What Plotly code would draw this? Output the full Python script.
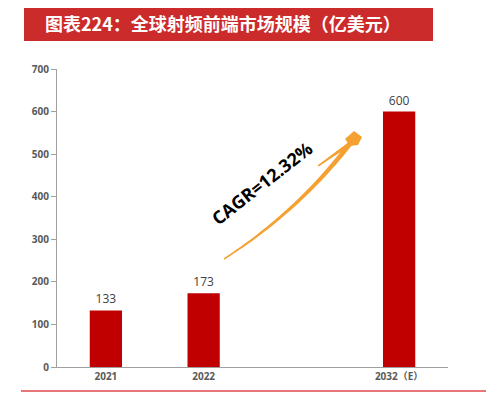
import plotly.graph_objects as go
import numpy as np

categories = ["2021", "2022", " ", "2032（E）"]
values = [133, 173, None, 600]
labels = ["133", "173", "", "600"]
title_text = "图表224：全球射频前端市场规模（亿美元）"
cagr_text = "CAGR=12.32%"

W, H = 494, 398
OFF = 8  # page body margin
L, R, T, B = 57, 448, 69, 367  # plot area in screen pixels


def px(x):
    return (x - L) / (R - L)


def py(y):
    return (B - y) / (B - T)


fig = go.Figure()
fig.add_trace(go.Bar(
    x=categories, y=values, text=labels, textposition="outside",
    marker=dict(color="#C00000", line=dict(width=0)),
    textfont=dict(family="Open Sans, Noto Sans", size=12, color="#404040"),
    cliponaxis=False, showlegend=False,
))

shapes = []
shapes.append(dict(type="rect", xref="paper", yref="paper",
                   x0=px(24), x1=px(433), y0=py(41), y1=py(6),
                   fillcolor="#CC2B2B", line=dict(width=0), layer="above"))
shapes.append(dict(type="line", xref="paper", yref="paper",
                   x0=px(21), x1=px(490), y0=py(391), y1=py(391),
                   line=dict(color="#E0474C", width=1.5)))


def tapered(p0, c, p1, w0, w1, n=40):
    t = np.linspace(0, 1, n)
    pts = np.array([(1 - t) ** 2 * p0[i] + 2 * (1 - t) * t * c[i] + t ** 2 * p1[i] for i in range(2)]).T
    d = np.gradient(pts, axis=0)
    nrm = np.stack([-d[:, 1], d[:, 0]], axis=1)
    nrm /= np.linalg.norm(nrm, axis=1, keepdims=True)
    w = (w0 + (w1 - w0) * t)[:, None] / 2
    up = pts + nrm * w
    lo = pts - nrm * w
    poly = np.vstack([up, lo[::-1]])
    return "M " + " L ".join(f"{px(x):.4f},{py(y):.4f}" for x, y in poly) + " Z"


orange = "#F5A132"
shapes.append(dict(type="path", xref="paper", yref="paper",
                   path=tapered((224, 259), (300, 210), (352, 141), 1.5, 5),
                   fillcolor=orange, line=dict(width=0)))
shapes.append(dict(type="path", xref="paper", yref="paper",
                   path=tapered((318, 166), (335, 154), (355, 140), 1.5, 4),
                   fillcolor=orange, line=dict(width=0)))
head = [(345, 139), (354, 131), (362, 137), (358, 145), (350, 146)]
shapes.append(dict(type="path", xref="paper", yref="paper",
                   path="M " + " L ".join(f"{px(x):.4f},{py(y):.4f}" for x, y in head) + " Z",
                   fillcolor=orange, line=dict(width=0)))

annotations = [
    dict(text=f"<b>{title_text}</b>", xref="paper", yref="paper",
         x=px(43), y=py(23.5), xanchor="left", yanchor="middle", showarrow=False,
         font=dict(family="Noto Sans CJK SC", size=18, color="white")),
    dict(text=f"<b>{cagr_text}</b>", xref="paper", yref="paper",
         x=px(262), y=py(183), xanchor="center", yanchor="middle", showarrow=False,
         textangle=-38,
         font=dict(family="Open Sans, Liberation Sans", size=18, color="black")),
]

fig.update_layout(
    width=W, height=H,
    margin=dict(l=L - OFF, r=W - (R - OFF), t=T - OFF, b=H - (B - OFF), pad=0),
    paper_bgcolor="white", plot_bgcolor="white",
    bargap=0.67,
    shapes=shapes, annotations=annotations,
    xaxis=dict(showline=True, linecolor="#A0A0A0", linewidth=1, ticks="",
               showgrid=False, zeroline=False,
               tickfont=dict(family="Open Sans, Noto Sans CJK SC", size=10, color="#595959", weight="bold")),
    yaxis=dict(range=[0, 700], dtick=100, showline=True, linecolor="#A0A0A0", linewidth=1,
               ticks="outside", ticklen=5, tickcolor="#A0A0A0", showgrid=False, zeroline=False,
               tickfont=dict(family="Open Sans", size=10, color="#595959", weight="bold")),
)

fig.write_html("out.html")
